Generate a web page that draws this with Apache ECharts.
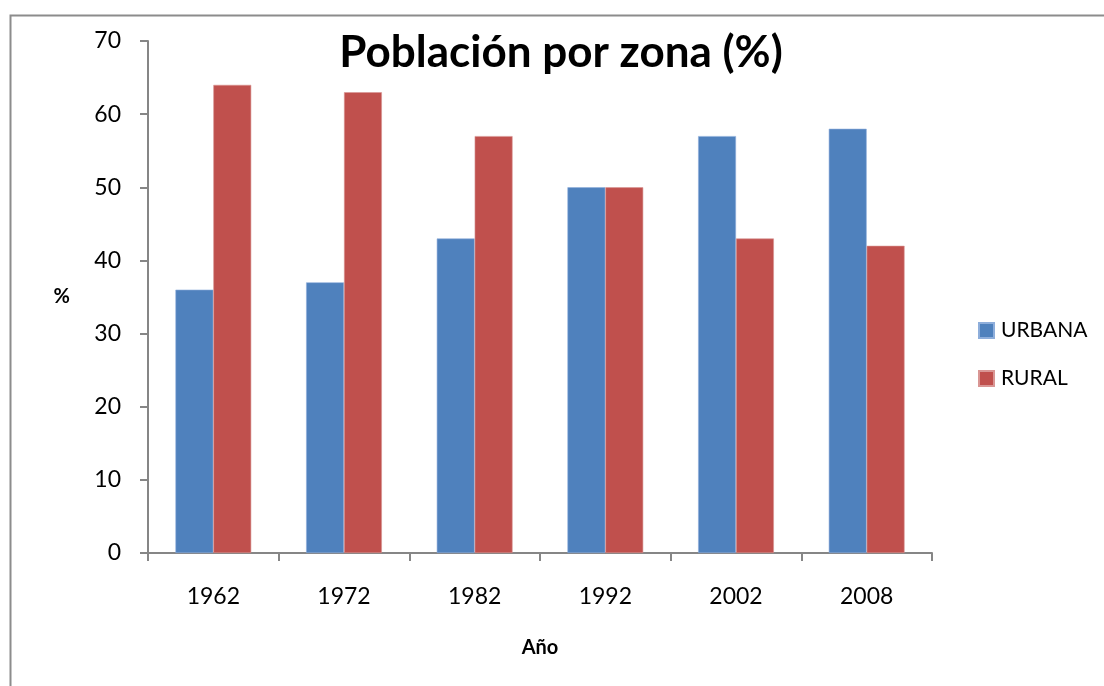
<!DOCTYPE html>
<html>
<head>
<meta charset="utf-8">
<script src="https://cdn.jsdelivr.net/npm/echarts@6/dist/echarts.min.js"></script>
<style>
  html, body { margin: 0; padding: 0; background: #fff; }
  #chart-container { width: 1104px; height: 686px; }
</style>
</head>
<body>
<div id="chart-container"></div>
<script>
    // datos
    var anios = ['1962', '1972', '1982', '1992', '2002', '2008'];
    var urbana = [36, 37, 43, 50, 57, 58];
    var rural = [64, 63, 57, 50, 43, 42];
    var ticksY = [0, 10, 20, 30, 40, 50, 60, 70];

    var dom = document.getElementById('chart-container');
    var myChart = echarts.init(dom, null, { renderer: 'canvas' });

    var fuente = 'Lato';
    var gris = '#868686';

    var option = {
        animation: false,
        backgroundColor: '#fff',
        graphic: [
            {
                type: 'rect',
                left: 8,
                top: 13,
                shape: { width: 1300, height: 900 },
                style: { fill: 'none', stroke: '#8c8c8c', lineWidth: 2 },
                silent: true
            }
        ],
        title: {
            text: 'Población por zona (%)',
            left: 556,
            top: 26,
            textAlign: 'center',
            textStyle: { fontFamily: fuente, fontWeight: 'bold', fontSize: 44, color: '#000' }
        },
        legend: {
            orient: 'vertical',
            left: 973,
            top: 315,
            itemWidth: 15,
            itemHeight: 15,
            itemGap: 27,
            icon: 'rect',
            textStyle: { fontFamily: fuente, fontSize: 21, color: '#000', padding: [0, 0, 0, 2] },
            data: ['URBANA', 'RURAL']
        },
        grid: { left: 148, right: 172, top: 41, bottom: 133 },
        xAxis: {
            type: 'category',
            data: anios,
            name: 'Año',
            nameLocation: 'middle',
            nameGap: 85,
            nameTextStyle: { fontFamily: fuente, fontWeight: 'bold', fontSize: 20, color: '#000' },
            axisLine: { lineStyle: { color: gris, width: 2 } },
            axisTick: { show: true, length: 8, lineStyle: { color: gris, width: 2 }, alignWithLabel: false },
            axisLabel: { fontFamily: fuente, fontSize: 23, color: '#000', margin: 32 }
        },
        yAxis: {
            type: 'value',
            min: ticksY[0],
            max: ticksY[ticksY.length - 1],
            interval: 10,
            name: '%',
            nameLocation: 'middle',
            nameRotate: 0,
            nameGap: 78,
            nameTextStyle: { fontFamily: fuente, fontWeight: 'bold', fontSize: 20, color: '#000', padding: [8, 0, 0, 0] },
            axisLine: { show: true, lineStyle: { color: gris, width: 2 } },
            axisTick: { show: true, length: 8, lineStyle: { color: gris, width: 2 } },
            splitLine: { show: false },
            axisLabel: { fontFamily: fuente, fontSize: 23, color: '#000', margin: 27 }
        },
        series: [
            {
                name: 'URBANA',
                type: 'bar',
                data: urbana,
                barGap: '0%',
                barCategoryGap: '42%',
                itemStyle: { color: '#4F81BD', borderColor: '#8eaedb', borderWidth: 0.6 }
            },
            {
                name: 'RURAL',
                type: 'bar',
                data: rural,
                barGap: '0%',
                barCategoryGap: '42%',
                itemStyle: { color: '#C0504D', borderColor: '#d99694', borderWidth: 0.6 }
            }
        ]
    };

    myChart.setOption(option);
    window.addEventListener('resize', myChart.resize);
</script>
</body>
</html>
